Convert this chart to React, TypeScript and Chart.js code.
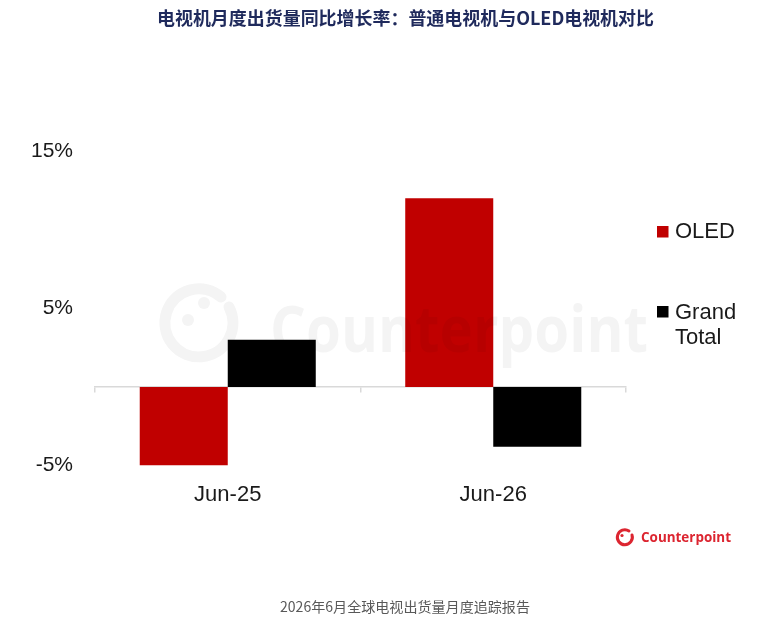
import React, { useEffect, useRef } from "react";
import { Chart, registerables } from "chart.js";

Chart.register(...registerables);

const titleText = "电视机月度出货量同比增长率：普通电视机与OLED电视机对比";
const footerText = "2026年6月全球电视出货量月度追踪报告";
const categories = ["Jun-25", "Jun-26"];
const seriesNames = ["OLED", "Grand Total"];
const seriesColors = ["#C00000", "#000000"];
const oledValues = [-5.0, 12.0];
const grandTotalValues = [3.0, -3.8];
const yTickValues = [-5, 5, 15];
const yMin = -5;
const yMax = 15;

const LABEL_FONT = "'Liberation Sans', Arial, sans-serif";

export default function App() {
  const canvasRef = useRef<HTMLCanvasElement | null>(null);

  useEffect(() => {
    const canvas = canvasRef.current;
    if (!canvas) return;
    const chart = new Chart(canvas, {
      type: "bar",
      data: {
        labels: categories,
        datasets: [
          {
            label: seriesNames[0],
            data: oledValues,
            backgroundColor: seriesColors[0],
            borderWidth: 0,
            barPercentage: 1,
            categoryPercentage: 0.663,
            xAxisID: "x",
          },
          {
            label: seriesNames[1],
            data: grandTotalValues,
            backgroundColor: seriesColors[1],
            borderWidth: 0,
            barPercentage: 1,
            categoryPercentage: 0.663,
            xAxisID: "x",
          },
        ],
      },
      options: {
        responsive: false,
        animation: false,
        layout: { padding: { top: 151, right: 149, bottom: 128.5, left: 0 } },
        plugins: {
          legend: { display: false },
          title: { display: false },
          tooltip: { enabled: false },
        },
        scales: {
          y: {
            min: yMin,
            max: yMax,
            afterBuildTicks: (scale: any) => {
              scale.ticks = yTickValues.map((v) => ({ value: v }));
            },
            afterFit: (scale: any) => {
              scale.width = 95;
            },
            ticks: {
              callback: (v: any) => `${v}%`,
              font: { family: LABEL_FONT, size: 21 },
              color: "#1a1a1a",
              padding: 22,
            },
            grid: { display: false, drawTicks: false },
            border: { display: false },
          },
          x: {
            type: "category",
            position: { y: 0 } as any,
            offset: true,
            ticks: { display: false },
            grid: {
              drawOnChartArea: false,
              drawTicks: true,
              tickLength: 5,
              color: "#d9d9d9",
              offset: true,
              lineWidth: 1.5,
            },
            border: { display: true, color: "#d9d9d9", width: 1.5 },
          },
          x2: {
            type: "category",
            labels: categories,
            position: "bottom",
            offset: true,
            afterFit: (scale: any) => {
              scale.height = 40;
            },
            ticks: {
              font: { family: LABEL_FONT, size: 22 },
              color: "#1a1a1a",
              padding: 16,
            },
            grid: { display: false, drawTicks: false },
            border: { display: false },
          },
        },
      } as any,
    });
    return () => chart.destroy();
  }, []);

  return (
    <div
      style={{
        position: "fixed",
        left: 0,
        top: 0,
        width: 775,
        height: 634,
        background: "#ffffff",
      }}
    >
      <canvas
        ref={canvasRef}
        width={775}
        height={634}
        style={{ position: "absolute", left: 0, top: 0, display: "block" }}
      />
      <svg
        width={775}
        height={634}
        style={{ position: "absolute", left: 0, top: 0, pointerEvents: "none" }}
      >
        {/* title */}
        <text
          x={405.5}
          y={25}
          textAnchor="middle"
          fontFamily="'Noto Sans CJK SC', sans-serif"
          fontWeight="bold"
          fontSize={18}
          fill="#1f2a5c"
          textLength={497}
          lengthAdjust="spacingAndGlyphs"
        >
          {titleText}
        </text>

        {/* watermark */}
        <g opacity={0.045}>
          <path
            d="M 221 297 A 34 34 0 1 0 229 307"
            fill="none"
            stroke="#000"
            strokeWidth={11}
            strokeLinecap="round"
          />
          <circle cx={204} cy={303} r={6} fill="#000" />
          <circle cx={188} cy={320} r={6} fill="#000" />
          <text
            x={270}
            y={352}
            fontFamily="'Open Sans', sans-serif"
            fontWeight="bold"
            fontSize={64}
            fill="#000"
            textLength={378}
            lengthAdjust="spacingAndGlyphs"
          >
            Counterpoint
          </text>
        </g>

        {/* legend */}
        <rect x={657} y={226} width={11.5} height={11.5} fill={seriesColors[0]} />
        <text
          x={675}
          y={238}
          fontFamily={LABEL_FONT}
          fontSize={22}
          fill="#1a1a1a"
        >
          {seriesNames[0]}
        </text>
        <rect x={657} y={306} width={11.5} height={11.5} fill={seriesColors[1]} />
        <text
          x={675}
          y={318.5}
          fontFamily={LABEL_FONT}
          fontSize={22}
          fill="#1a1a1a"
        >
          {seriesNames[1].split(" ")[0]}
        </text>
        <text
          x={675}
          y={343.5}
          fontFamily={LABEL_FONT}
          fontSize={22}
          fill="#1a1a1a"
        >
          {seriesNames[1].split(" ")[1]}
        </text>

        {/* logo */}
        <path
          d="M 629 531 A 7.5 7.5 0 1 0 632 535"
          fill="none"
          stroke="#dc2530"
          strokeWidth={3}
          strokeLinecap="round"
        />
        <circle cx={622} cy={535.5} r={1.6} fill="#dc2530" />
        <text
          x={641}
          y={542}
          fontFamily="'Open Sans', sans-serif"
          fontWeight="bold"
          fontSize={14}
          fill="#dc2530"
          textLength={90}
          lengthAdjust="spacingAndGlyphs"
        >
          Counterpoint
        </text>

        {/* footer */}
        <text
          x={405}
          y={612}
          textAnchor="middle"
          fontFamily="'Noto Sans CJK SC', sans-serif"
          fontSize={14}
          fill="#595959"
          textLength={250}
          lengthAdjust="spacingAndGlyphs"
        >
          {footerText}
        </text>
      </svg>
    </div>
  );
}
